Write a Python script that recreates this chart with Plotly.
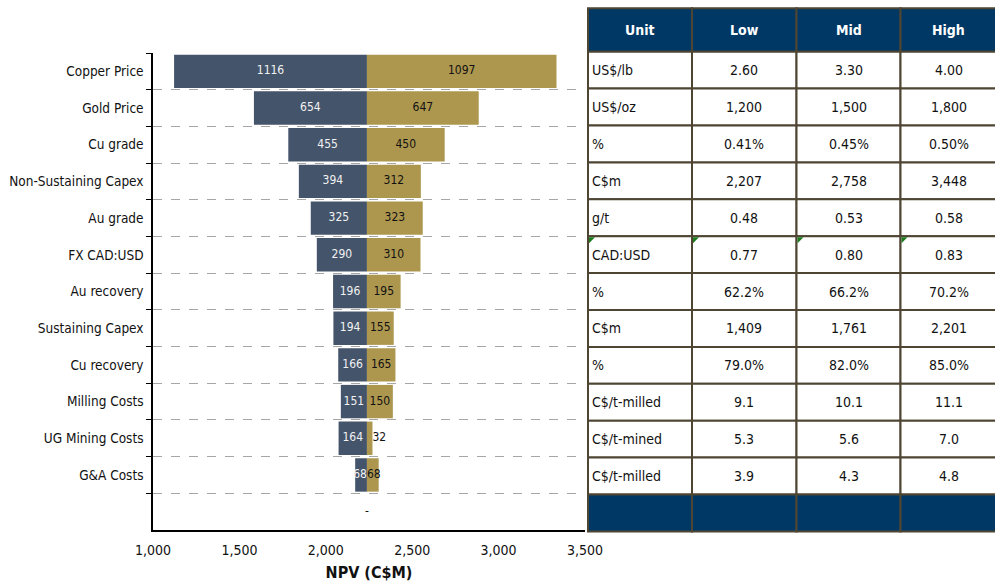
import plotly.graph_objects as go

# ---------------- data ----------------
categories = ["Copper Price", "Gold Price", "Cu grade", "Non-Sustaining Capex", "Au grade",
              "FX CAD:USD", "Au recovery", "Sustaining Capex", "Cu recovery", "Milling Costs",
              "UG Mining Costs", "G&A Costs"]
downside = [1116, 654, 455, 394, 325, 290, 196, 194, 166, 151, 164, 68]
upside = [1097, 647, 450, 312, 323, 310, 195, 155, 165, 150, 32, 68]
base_npv = 2238

table_header = ["Unit", "Low", "Mid", "High"]
units = ["US$/lb", "US$/oz", "%", "C$m", "g/t", "CAD:USD", "%", "C$m", "%", "C$/t-milled",
         "C$/t-mined", "C$/t-milled"]
low_vals = ["2.60", "1,200", "0.41%", "2,207", "0.48", "0.77", "62.2%", "1,409", "79.0%", "9.1", "5.3", "3.9"]
mid_vals = ["3.30", "1,500", "0.45%", "2,758", "0.53", "0.80", "66.2%", "1,761", "82.0%", "10.1", "5.6", "4.3"]
high_vals = ["4.00", "1,800", "0.50%", "3,448", "0.58", "0.83", "70.2%", "2,201", "85.0%", "11.1", "7.0", "4.8"]

x_ticks = [1000, 1500, 2000, 2500, 3000, 3500]

# ---------------- styling ----------------
NARROW = "Liberation Sans Narrow, Arial Narrow, DejaVu Sans Condensed, Liberation Sans, Arial"
DARK = "#44546A"
GOLD = "#AD974F"
NAVY = "#003865"
BORDER = "#4E4533"

W, H = 995, 582
L, R, T, B = 153, 585, 53, 530

blank = " "
cats_all = categories + [blank]

fig = go.Figure()
fig.add_trace(go.Bar(
    y=categories, x=downside, base=[base_npv - v for v in downside], orientation="h",
    marker=dict(color=DARK, line=dict(width=0)), hoverinfo="skip", showlegend=False))
fig.add_trace(go.Bar(
    y=categories, x=upside, base=[base_npv] * len(upside), orientation="h",
    marker=dict(color=GOLD, line=dict(width=0)), hoverinfo="skip", showlegend=False))

# data labels drawn on top of all bars
SMALL = 80
fig.add_trace(go.Scatter(
    y=categories, x=[base_npv if v < SMALL else base_npv - v / 2 for v in downside], mode="text",
    text=[str(v) for v in downside],
    textposition=["middle left" if v < SMALL else "middle center" for v in downside],
    textfont=dict(family=NARROW, size=12, color="#F2F2F2"), hoverinfo="skip", showlegend=False,
    cliponaxis=False))
fig.add_trace(go.Scatter(
    y=categories,
    x=[base_npv + v if v < 40 else (base_npv if v < SMALL else base_npv + v / 2) for v in upside],
    mode="text",
    text=[str(v) for v in upside],
    textposition=["middle right" if v < SMALL else "middle center" for v in upside],
    textfont=dict(family=NARROW, size=12, color="#111111"), hoverinfo="skip", showlegend=False,
    cliponaxis=False))
# "-" label for the empty bottom category
fig.add_trace(go.Scatter(
    y=[blank], x=[base_npv], mode="text", text=["-"], textposition="middle center",
    textfont=dict(family=NARROW, size=12, color="#111111"), hoverinfo="skip", showlegend=False))

fig.update_layout(
    width=W, height=H, barmode="overlay", bargap=0.09,
    margin=dict(l=L, r=W - R, t=T, b=H - B, pad=0, autoexpand=False),
    plot_bgcolor="white", paper_bgcolor="white",
    font=dict(family=NARROW, size=14, color="#111111"),
    xaxis=dict(range=[x_ticks[0], x_ticks[-1]], tickvals=x_ticks, tickformat=",",
               showgrid=False, showline=True, linecolor="black", linewidth=1.5,
               ticks="", tickfont=dict(family=NARROW, size=14, color="#111111"),
               zeroline=False, automargin=False, ticklabelstandoff=6,
               title=dict(text="<b>NPV (C$M)</b>", font=dict(family=NARROW, size=16, color="#111111"),
                          standoff=12)),
    yaxis=dict(categoryorder="array", categoryarray=cats_all, range=[len(cats_all) - 0.5, -0.5],
               tickson="boundaries", ticks="outside", ticklen=5, tickcolor="black",
               showline=True, linecolor="black", linewidth=1.5, automargin=False,
               showgrid=True, gridcolor="#A6A6A6", griddash="dash", gridwidth=1,
               tickfont=dict(family=NARROW, size=13.5, color="#111111"), ticklabelstandoff=5),
)

# ---------------- table (drawn with shapes / annotations) ----------------
def px(xp):
    return (xp - L) / (R - L)

def py(yp):
    return (B - yp) / (B - T)

col_edges = [588, 692, 796.5, 900.5, 997]
head_top, head_bot = 8.3, 51.7
row_h = 36.9
n_rows = len(units) + 1

shapes = []
annos = []
for c in range(4):
    x0, x1 = col_edges[c], col_edges[c + 1]
    shapes.append(dict(type="rect", xref="paper", yref="paper", x0=px(x0), x1=px(x1),
                       y0=py(head_bot), y1=py(head_top), fillcolor=NAVY,
                       line=dict(color=BORDER, width=2), layer="above"))
    annos.append(dict(xref="paper", yref="paper", x=px((x0 + x1) / 2), y=py((head_top + head_bot) / 2),
                      text="<b>" + table_header[c] + "</b>", showarrow=False,
                      font=dict(family=NARROW, size=14, color="white"),
                      xanchor="center", yanchor="middle"))

columns = [units, low_vals, mid_vals, high_vals]
for r in range(n_rows):
    y0 = head_bot + r * row_h
    y1 = y0 + row_h
    last = r == n_rows - 1
    for c in range(4):
        x0, x1 = col_edges[c], col_edges[c + 1]
        shapes.append(dict(type="rect", xref="paper", yref="paper", x0=px(x0), x1=px(x1),
                           y0=py(y1), y1=py(y0), fillcolor=NAVY if last else "white",
                           line=dict(color=BORDER, width=2), layer="above"))
        if not last:
            val = columns[c][r]
            if c == 0:
                annos.append(dict(xref="paper", yref="paper", x=px(x0 + 2), y=py((y0 + y1) / 2),
                                  text=val, showarrow=False, xanchor="left", yanchor="middle",
                                  font=dict(family=NARROW, size=14, color="#111111")))
            else:
                annos.append(dict(xref="paper", yref="paper", x=px((x0 + x1) / 2), y=py((y0 + y1) / 2),
                                  text=val, showarrow=False, xanchor="center", yanchor="middle",
                                  font=dict(family=NARROW, size=14, color="#111111")))
            if units[r] == "CAD:USD":
                tx, ty = x0 + 1, y0 + 1
                shapes.append(dict(type="path", xref="paper", yref="paper",
                                   path=f"M {px(tx)},{py(ty)} L {px(tx + 6)},{py(ty)} L {px(tx)},{py(ty + 6)} Z",
                                   fillcolor="#1E7B1E", line=dict(width=0), layer="above"))

fig.update_layout(shapes=shapes, annotations=annos)

fig.write_html("out.html", config={"displayModeBar": False},
               post_script="document.body.style.margin='0';")
